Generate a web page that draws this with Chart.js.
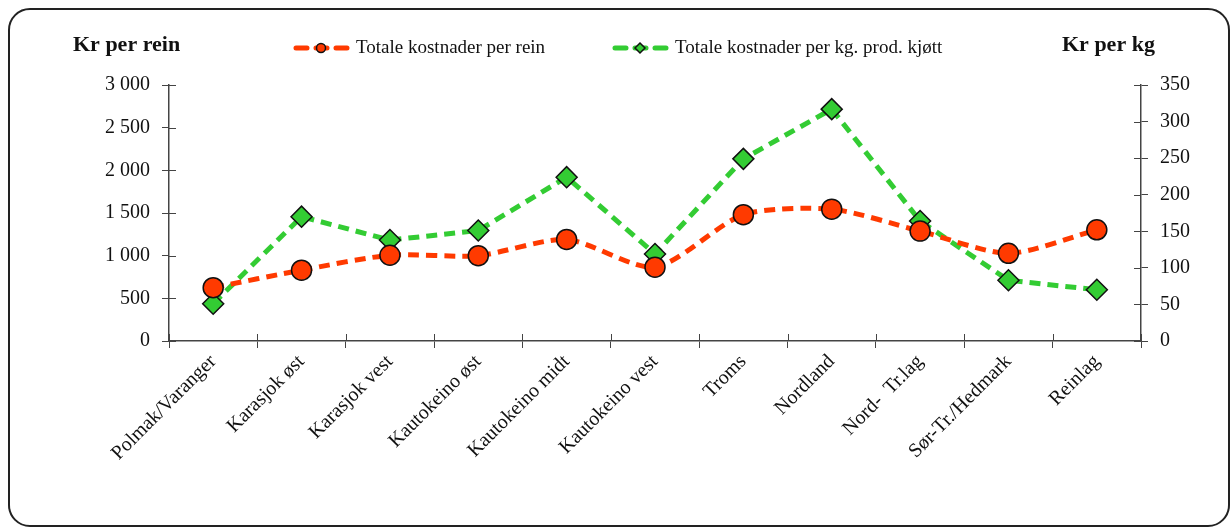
<!DOCTYPE html>
<html>
<head>
    <title>Kostnader per rein og per kg</title>
    <script src="https://cdn.jsdelivr.net/npm/chart.js"></script>
    <style>
        body { margin: 0; background: #fff; }
        .frame {
            position: absolute; left: 8px; top: 8px;
            width: 1218px; height: 515px;
            border: 2px solid #222; border-radius: 22px;
        }
        .wrap { position: absolute; left: 0; top: 0; width: 1230px; height: 527px; }
    </style>
</head>
<body>
    <div class="frame"></div>
    <div class="wrap"><canvas id="costChart"></canvas></div>

    <script>
        // Data
        const regions = ['Polmak/Varanger', 'Karasjok øst', 'Karasjok vest', 'Kautokeino øst',
            'Kautokeino midt', 'Kautokeino vest', 'Troms', 'Nordland', 'Nord-  Tr.lag',
            'Sør-Tr./Hedmark', 'Reinlag'];
        const perRein = [625, 830, 1005, 1000, 1190, 865, 1480, 1545, 1288, 1028, 1303];
        const perKg = [51, 170, 138, 151, 224, 119, 249, 317, 164, 83, 70];

        const leftLabel = 'Kr per rein';
        const rightLabel = 'Kr per kg';
        const serif = '"Liberation Serif", "DejaVu Serif", serif';

        const red = '#ff3a00';
        const green = '#33cc33';

        function fmt(v) {
            return String(v).replace(/\B(?=(\d{3})+(?!\d))/g, ' ');
        }

        // axis titles, legend and ticks crossing the axis lines
        const decor = {
            id: 'decor',
            afterDraw(chart) {
                const c = chart.ctx;
                const area = chart.chartArea;
                c.save();
                c.fillStyle = '#111';
                c.font = 'bold 22px ' + serif;
                c.textBaseline = 'middle';
                c.textAlign = 'left';
                c.fillText(leftLabel, 73, 45);
                c.fillText(rightLabel, 1062, 45);

                // legend
                const items = [{ ds: 0, x: 293 }, { ds: 1, x: 612 }];
                c.font = '19px ' + serif;
                items.forEach(it => {
                    const ds = chart.data.datasets[it.ds];
                    const y = 48;
                    c.strokeStyle = ds.borderColor;
                    c.lineWidth = 5;
                    c.lineCap = 'round';
                    c.setLineDash([11, 9]);
                    c.beginPath();
                    c.moveTo(it.x + 3, y);
                    c.lineTo(it.x + 58, y);
                    c.stroke();
                    c.setLineDash([]);
                    c.lineCap = 'butt';
                    c.fillStyle = ds.pointBackgroundColor;
                    c.strokeStyle = '#111';
                    c.lineWidth = 1.5;
                    const mx = it.x + 28;
                    c.beginPath();
                    if (ds.pointStyle === 'circle') {
                        c.arc(mx, y, 4.5, 0, Math.PI * 2);
                    } else {
                        c.moveTo(mx, y - 5); c.lineTo(mx + 5, y); c.lineTo(mx, y + 5); c.lineTo(mx - 5, y); c.closePath();
                    }
                    c.fill();
                    c.stroke();
                    c.fillStyle = '#111';
                    c.fillText(ds.label, it.x + 63, y);
                });

                // inner halves of the tick marks
                c.strokeStyle = '#444';
                c.lineWidth = 1;
                const yl = chart.scales.y;
                yl.ticks.forEach(t => {
                    const py = Math.round(yl.getPixelForValue(t.value)) + 0.5;
                    c.beginPath(); c.moveTo(area.left, py); c.lineTo(area.left + 7, py); c.stroke();
                });
                const yr = chart.scales.y2;
                yr.ticks.forEach(t => {
                    const py = Math.round(yr.getPixelForValue(t.value)) + 0.5;
                    c.beginPath(); c.moveTo(area.right - 7, py); c.lineTo(area.right, py); c.stroke();
                });
                const xs = chart.scales.x;
                const step = (area.right - area.left) / regions.length;
                for (let i = 0; i <= regions.length; i++) {
                    const px = Math.round(xs.getPixelForValue(0) - step / 2 + i * step) + 0.5;
                    c.beginPath(); c.moveTo(px, area.bottom - 7); c.lineTo(px, area.bottom); c.stroke();
                }
                c.restore();
            }
        };

        const ctx = document.getElementById('costChart').getContext('2d');
        const chart = new Chart(ctx, {
            type: 'line',
            data: {
                labels: regions,
                datasets: [{
                    label: 'Totale kostnader per rein',
                    data: perRein,
                    yAxisID: 'y',
                    borderColor: red,
                    borderWidth: 5,
                    borderDash: [11, 7],
                    pointStyle: 'circle',
                    pointRadius: 10,
                    pointBackgroundColor: red,
                    pointBorderColor: '#111',
                    pointBorderWidth: 1.5,
                    tension: 0.25,
                    fill: false
                }, {
                    label: 'Totale kostnader per kg. prod. kjøtt',
                    data: perKg,
                    yAxisID: 'y2',
                    borderColor: green,
                    borderWidth: 5,
                    borderDash: [11, 7],
                    pointStyle: 'rectRot',
                    pointRadius: 10.5,
                    pointBackgroundColor: green,
                    pointBorderColor: '#111',
                    pointBorderWidth: 1.5,
                    tension: 0,
                    fill: false
                }]
            },
            options: {
                responsive: true,
                maintainAspectRatio: false,
                animation: false,
                layout: { padding: { top: 85, left: 0, right: 0, bottom: 0 } },
                plugins: {
                    legend: { display: false },
                    tooltip: { enabled: false }
                },
                scales: {
                    x: {
                        offset: true,
                        grid: { offset: true, drawOnChartArea: false, tickLength: 7, color: '#444' },
                        border: { color: '#444', width: 1.5 },
                        ticks: {
                            autoSkip: false, minRotation: 45, maxRotation: 45, padding: 2,
                            color: '#111', font: { family: serif, size: 20 }
                        },
                        afterFit: s => { s.height = 186; }
                    },
                    y: {
                        position: 'left',
                        min: 0, max: 3000,
                        grid: { drawOnChartArea: false, tickLength: 7, color: '#444' },
                        border: { color: '#444', width: 1.5 },
                        ticks: {
                            stepSize: 500, padding: 12, color: '#111',
                            font: { family: serif, size: 20 },
                            callback: v => fmt(v)
                        },
                        afterFit: s => { s.width = 169; }
                    },
                    y2: {
                        position: 'right',
                        min: 0, max: 350,
                        grid: { drawOnChartArea: false, tickLength: 7, color: '#444' },
                        border: { color: '#444', width: 1.5 },
                        ticks: {
                            stepSize: 50, padding: 12, color: '#111',
                            font: { family: serif, size: 20 }
                        },
                        afterFit: s => { s.width = 89; }
                    }
                }
            },
            plugins: [decor]
        });
    </script>
</body>
</html>
